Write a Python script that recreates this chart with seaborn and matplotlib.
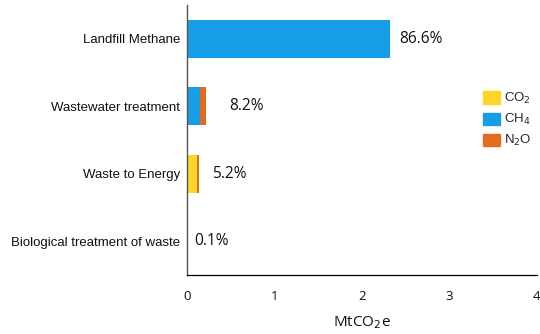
import matplotlib
matplotlib.use("Agg")
import matplotlib.pyplot as plt
import seaborn as sns
import pandas as pd
from matplotlib.patches import Patch

# Emissions by waste sector (MtCO2e), split by gas
categories = ["Landfill Methane", "Wastewater treatment", "Waste to Energy",
              "Biological treatment of waste"]
co2 = [0.0, 0.0, 0.12, 0.0]
ch4 = [2.32, 0.15, 0.0, 0.002]
n2o = [0.0, 0.07, 0.02, 0.001]
shares = ["86.6%", "8.2%", "5.2%", "0.1%"]
gases = ["CO$_2$", "CH$_4$", "N$_2$O"]
xticks = [0, 1, 2, 3, 4]

colors = {"CO2": "#FDD727", "CH4": "#159EE6", "N2O": "#E26B1D"}
label_pad = [7, 17, 9, 5]  # points between bar end and share label
num_font = ["Open Sans", "DejaVu Sans"]

sns.set_theme(style="white")
plt.rcParams["font.family"] = ["Liberation Sans", "DejaVu Sans"]

df = pd.DataFrame({"category": categories, "CO2": co2, "CH4": ch4, "N2O": n2o})
df["s1"] = df["CO2"]
df["s2"] = df["CO2"] + df["CH4"]
df["s3"] = df["s2"] + df["N2O"]

fig, ax = plt.subplots(figsize=(5.4, 3.34), dpi=100)
fig.subplots_adjust(left=0.346, right=0.994, top=0.985, bottom=0.177)

# stacked bars drawn from the cumulative totals, widest first
for col, gas in [("s3", "N2O"), ("s2", "CH4"), ("s1", "CO2")]:
    sns.barplot(data=df, x=col, y="category", orient="h", color=colors[gas],
                saturation=1, width=0.56, ax=ax, linewidth=0)

for i, (tot, txt) in enumerate(zip(df["s3"], shares)):
    ax.annotate(txt, xy=(tot, i), xytext=(label_pad[i], 0),
                textcoords="offset points", va="center", ha="left",
                fontsize=11.2, family=num_font, color="#111111")

ax.set_xlim(0, 4)
ax.set_ylim(3.5, -0.5)
ax.set_xticks(xticks)
ax.set_xticklabels([str(t) for t in xticks], family=num_font, fontsize=9.5)
ax.set_xlabel("MtCO$_2$e", family=num_font, fontsize=11,
              labelpad=8, color="#111111")
ax.set_ylabel("")
ax.tick_params(axis="y", length=0, labelsize=9.5, pad=5, labelcolor="#111111")
ax.tick_params(axis="x", length=3, width=0.8, direction="out", color="black",
               pad=8, labelcolor="#111111")

for side in ["top", "right"]:
    ax.spines[side].set_visible(False)
ax.spines["left"].set_color("#555555")
ax.spines["left"].set_linewidth(1.0)
ax.spines["bottom"].set_color("black")
ax.spines["bottom"].set_linewidth(0.9)

handles = [Patch(color=colors[g]) for g in ["CO2", "CH4", "N2O"]]
ax.legend(handles, gases, loc="center left", bbox_to_anchor=(0.83, 0.575),
          frameon=False, fontsize=9.5, handlelength=1.3, handleheight=1.05,
          handletextpad=0.3, labelspacing=0.45, borderaxespad=0)

fig.savefig("out.png", dpi=100)
